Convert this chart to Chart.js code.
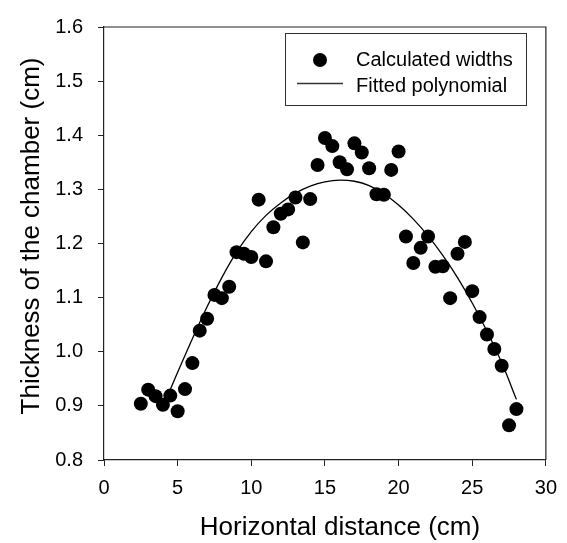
<!DOCTYPE html>
<html lang="en">
  <head>
    <meta charset="UTF-8" />
    <title>Thickness of the chamber</title>
    <script src="https://cdn.jsdelivr.net/npm/chart.js"></script>
    <style>
      body { margin: 0; background: #fff; }
      .chart-box { width: 567px; height: 543px; }
    </style>
  </head>
  <body>
    <div class="chart-box">
      <canvas id="chamberChart" width="567" height="543"></canvas>
    </div>

    <script>
      const distances = [2.5, 3, 3.5, 4, 4.5, 5, 5.5, 6, 6.5, 7, 7.5, 8, 8.5, 9, 9.5, 10,
        10.5, 11, 11.5, 12, 12.5, 13, 13.5, 14, 14.5, 15, 15.5, 16, 16.5, 17, 17.5, 18,
        18.5, 19, 19.5, 20, 20.5, 21, 21.5, 22, 22.5, 23, 23.5, 24, 24.5, 25, 25.5, 26,
        26.5, 27, 27.5, 28];
      const widths = [0.904, 0.930, 0.918, 0.902, 0.919, 0.890, 0.931, 0.979, 1.039, 1.061,
        1.105, 1.099, 1.120, 1.184, 1.181, 1.175, 1.281, 1.167, 1.230, 1.255, 1.263, 1.285,
        1.202, 1.282, 1.345, 1.395, 1.380, 1.350, 1.337, 1.385, 1.368, 1.339, 1.291, 1.290,
        1.336, 1.370, 1.213, 1.164, 1.192, 1.213, 1.157, 1.158, 1.099, 1.181, 1.203, 1.112,
        1.064, 1.032, 1.005, 0.974, 0.864, 0.894];

      // fitted curve, sampled from the drawn line
      const fitX = [4.4, 5, 6, 7, 8, 9, 10, 11, 12, 13, 14, 15, 16, 17, 18, 19, 20, 21, 22,
        23, 24, 25, 26, 27, 28];
      const fitY = [0.924, 0.962, 1.024, 1.083, 1.137, 1.184, 1.222, 1.252, 1.275, 1.293,
        1.306, 1.314, 1.317, 1.315, 1.307, 1.292, 1.271, 1.245, 1.214, 1.178, 1.137, 1.090,
        1.038, 0.980, 0.912];

      const xTitle = "Horizontal distance (cm)";
      const yTitle = "Thickness of the chamber (cm)";
      const legendLabels = ["Calculated widths", "Fitted polynomial"];

      const FONT = "'Liberation Sans', Arial, sans-serif";

      // frame, axis titles and the boxed legend
      const decorations = {
        id: "decorations",
        afterDraw(chart) {
          const ctx = chart.ctx;
          const a = chart.chartArea;
          ctx.save();
          ctx.strokeStyle = "#222";
          ctx.lineWidth = 1.2;
          ctx.beginPath();
          ctx.moveTo(a.left, a.top);
          ctx.lineTo(a.right, a.top);
          ctx.lineTo(a.right, a.bottom);
          ctx.stroke();

          ctx.fillStyle = "#000";
          ctx.font = "26px " + FONT;
          ctx.textAlign = "center";
          ctx.textBaseline = "alphabetic";
          ctx.fillText(xTitle, 340, 535);

          ctx.save();
          ctx.translate(39, 236);
          ctx.rotate(-Math.PI / 2);
          ctx.fillText(yTitle, 0, 0);
          ctx.restore();

          // legend
          ctx.strokeStyle = "#333";
          ctx.lineWidth = 1;
          ctx.strokeRect(285.5, 33.5, 241, 72);
          ctx.beginPath();
          ctx.arc(320, 60, 7, 0, Math.PI * 2);
          ctx.fill();
          ctx.lineWidth = 1.3;
          ctx.beginPath();
          ctx.moveTo(297, 83.5);
          ctx.lineTo(343, 83.5);
          ctx.stroke();
          ctx.font = "20px " + FONT;
          ctx.textAlign = "left";
          ctx.fillText(legendLabels[0], 356, 66);
          ctx.fillText(legendLabels[1], 356, 92);
          ctx.restore();
        }
      };

      const points = distances.map((x, i) => ({ x: x, y: widths[i] }));
      const fitted = fitX.map((x, i) => ({ x: x, y: fitY[i] }));

      new Chart(document.getElementById("chamberChart"), {
        type: "scatter",
        data: {
          datasets: [
            {
              label: legendLabels[0],
              data: points,
              backgroundColor: "#000",
              borderWidth: 0,
              pointRadius: 7,
              order: 0
            },
            {
              type: "line",
              label: legendLabels[1],
              data: fitted,
              borderColor: "#000",
              borderWidth: 1.3,
              pointRadius: 0,
              fill: false,
              cubicInterpolationMode: "monotone",
              order: 1
            }
          ]
        },
        options: {
          responsive: false,
          animation: false,
          layout: { padding: { top: 20, right: 21, left: 0, bottom: 0 } },
          plugins: { legend: { display: false }, tooltip: { enabled: false } },
          scales: {
            x: {
              type: "linear",
              min: 0,
              max: 30,
              afterFit(scale) { scale.height = 83; },
              ticks: { stepSize: 5, color: "#000", font: { size: 20, family: FONT }, padding: 10, maxRotation: 0 },
              grid: { drawOnChartArea: false, tickLength: 6, color: "#222" },
              border: { color: "#222", width: 1.2 }
            },
            y: {
              min: 0.8,
              max: 1.6,
              afterFit(scale) { scale.width = 104; },
              ticks: {
                stepSize: 0.1,
                color: "#000",
                font: { size: 20, family: FONT },
                padding: 15,
                callback: (v) => v.toFixed(1)
              },
              grid: { drawOnChartArea: false, tickLength: 6, color: "#222" },
              border: { color: "#222", width: 1.2 }
            }
          }
        },
        plugins: [decorations]
      });
    </script>
  </body>
</html>
